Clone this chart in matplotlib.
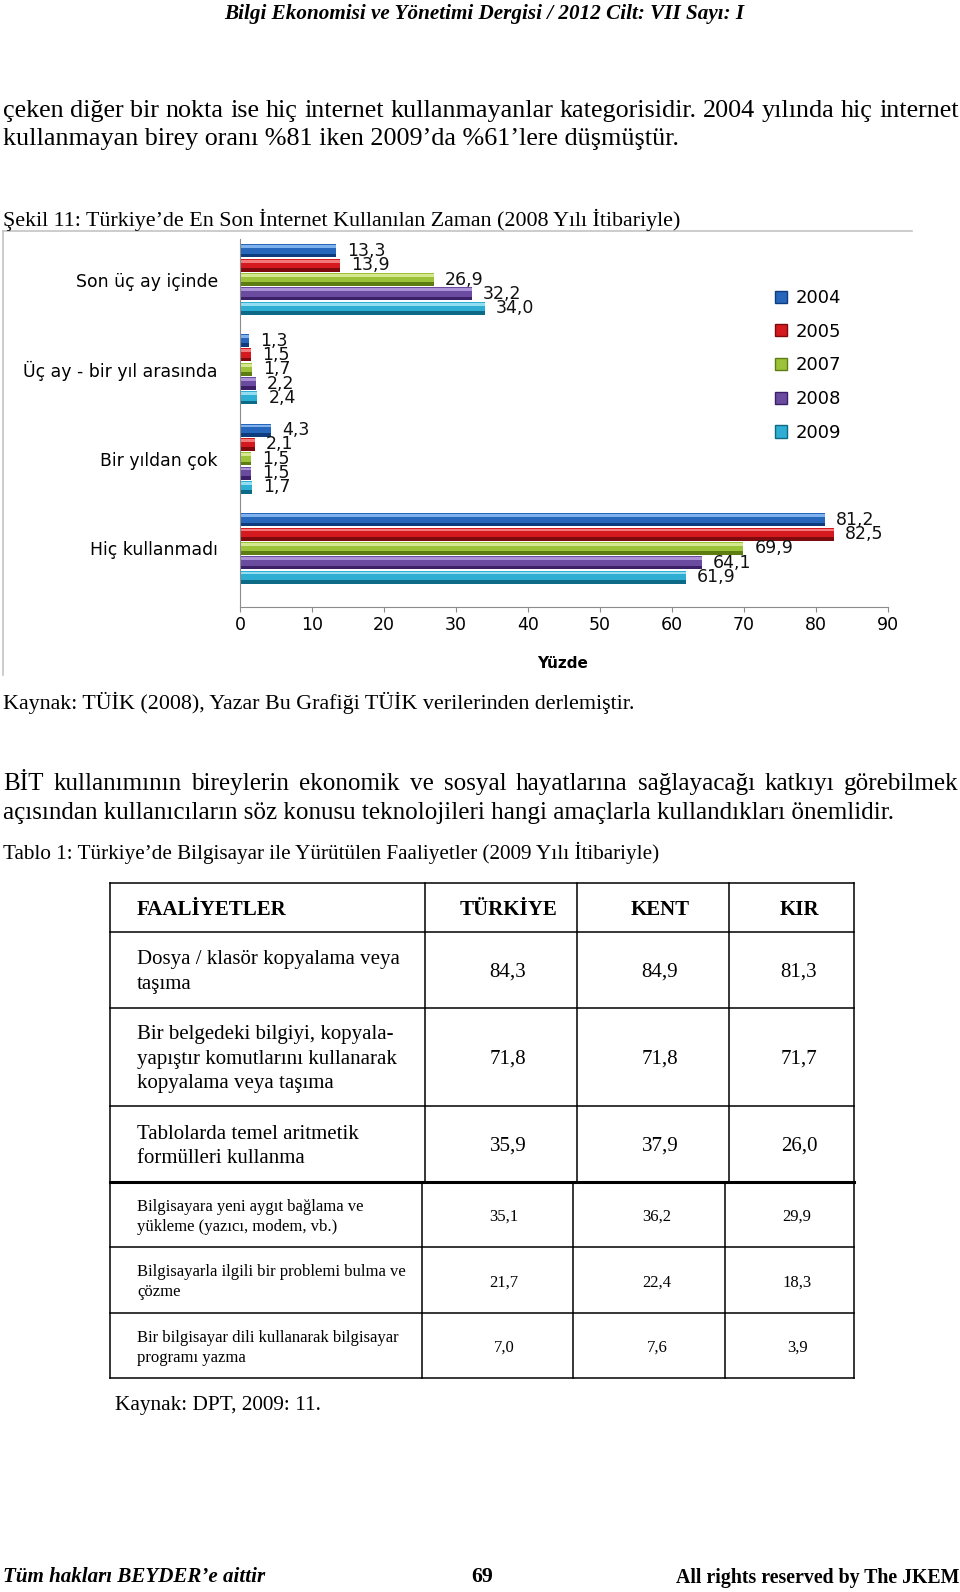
import matplotlib
matplotlib.use('Agg')
import matplotlib.pyplot as plt
import numpy as np
from matplotlib.patches import Patch

# Şekil 11 data
categories = ['Son üç ay içinde', 'Üç ay - bir yıl arasında', 'Bir yıldan çok', 'Hiç kullanmadı']
years = ['2004', '2005', '2007', '2008', '2009']
v2004 = [13.3, 1.3, 4.3, 81.2]
v2005 = [13.9, 1.5, 2.1, 82.5]
v2007 = [26.9, 1.7, 1.5, 69.9]
v2008 = [32.2, 2.2, 1.5, 64.1]
v2009 = [34.0, 2.4, 1.7, 61.9]
xticks = [0, 10, 20, 30, 40, 50, 60, 70, 80, 90]

# Tablo 1 data
table_header = ['FAALİYETLER', 'TÜRKİYE', 'KENT', 'KIR']
activities = ['Dosya / klasör kopyalama veya\ntaşıma',
              'Bir belgedeki bilgiyi, kopyala-\nyapıştır komutlarını kullanarak\nkopyalama veya taşıma',
              'Tablolarda temel aritmetik\nformülleri kullanma',
              'Bilgisayara yeni aygıt bağlama ve\nyükleme (yazıcı, modem, vb.)',
              'Bilgisayarla ilgili bir problemi bulma ve\nçözme',
              'Bir bilgisayar dili kullanarak bilgisayar\nprogramı yazma']
turkiye = [84.3, 71.8, 35.9, 35.1, 21.7, 7.0]
kent = [84.9, 71.8, 37.9, 36.2, 22.4, 7.6]
kir = [81.3, 71.7, 26.0, 29.9, 18.3, 3.9]

SERIF = 'Liberation Serif'
SANS = 'DejaVu Sans'
dark = ['#0e3c7c', '#7d0b0d', '#5d7c12', '#3b2068', '#0c6a86']
mid = ['#2667bb', '#d4191f', '#9cc23a', '#6b4ba0', '#2eaed2']
light = ['#7fb2ec', '#f27a7a', '#d4e98f', '#ab92d6', '#92ddf2']
DY = 2.5  # serif text sits a bit lower than its bbox centre

W, H = 960, 1592
fig = plt.figure(figsize=(W / 100, H / 100), dpi=100)
page = fig.add_axes([0, 0, 1, 1])
page.set_xlim(0, W)
page.set_ylim(H, 0)
page.axis('off')
renderer = fig.canvas.get_renderer()


def fmt(v):
    return f'{v:.1f}'.replace('.', ',')


def fit(x, y, s, width, ha='left', **kw):
    t = page.text(x, y + DY, s, ha=ha, va='center', fontsize=14, family=SERIF, **kw)
    w = t.get_window_extent(renderer).width
    t.set_fontsize(14 * width / w)
    return t.get_fontsize()


def justify(x0, x1, y, s, size, **kw):
    # words on a common baseline, spread to fill the line
    base = y + DY + 0.233 * size * 100 / 72
    words = s.split()
    ts = [page.text(0, base, w, ha='left', va='baseline', fontsize=size, family=SERIF, **kw) for w in words]
    widths = [t.get_window_extent(renderer).width for t in ts]
    gap = (x1 - x0 - sum(widths)) / (len(words) - 1)
    x = x0
    for t, w in zip(ts, widths):
        t.set_x(x)
        x += w + gap


def serif(x, y, s, **kw):
    page.text(x, y + DY, s, va='center', family=SERIF, **kw)


# page text
fit(484, 12, 'Bilgi Ekonomisi ve Yönetimi Dergisi / 2012 Cilt: VII Sayı: I', 521, ha='center',
    weight='bold', style='italic')
s1 = fit(3, 137, 'kullanmayan birey oranı %81 iken 2009’da %61’lere düşmüştür.', 680)
justify(3, 959, 108, 'çeken diğer bir nokta ise hiç internet kullanmayanlar kategorisidir. 2004 yılında hiç internet', s1)
fit(3, 217, 'Şekil 11: Türkiye’de En Son İnternet Kullanılan Zaman (2008 Yılı İtibariyle)', 680)
fit(3, 700, 'Kaynak: TÜİK (2008), Yazar Bu Grafiği TÜİK verilerinden derlemiştir.', 635)
s2 = fit(3, 811, 'açısından kullanıcıların söz konusu teknolojileri hangi amaçlarla kullandıkları önemlidir.', 898)
justify(3, 959, 782, 'BİT kullanımının bireylerin ekonomik ve sosyal hayatlarına sağlayacağı katkıyı görebilmek', s2)
fit(3, 850, 'Tablo 1: Türkiye’de Bilgisayar ile Yürütülen Faaliyetler (2009 Yılı İtibariyle)', 656)
fit(115, 1403, 'Kaynak: DPT, 2009: 11.', 207)
fit(3, 1575, 'Tüm hakları BEYDER’e aittir', 263, weight='bold', style='italic')
fit(482, 1575, '69', 22, ha='center', weight='bold')
fit(959, 1575, 'All rights reserved by The JKEM', 285, ha='right', weight='bold')

# chart frame
page.plot([3, 912], [231, 231], color='#c4c4c4', lw=1.2)
page.plot([3, 3], [231, 675], color='#c4c4c4', lw=1.2)

# chart
ax = fig.add_axes([240 / W, 1 - 607 / H, (888 - 240) / W, (607 - 239.5) / H])
ax.set_xlim(0, 90)
ax.set_ylim(3.654, -0.4475)
ax.patch.set_alpha(0)
series = [v2004, v2005, v2007, v2008, v2009]
cat_y = np.arange(len(categories))
bh = 0.145
for k, vals in enumerate(series):
    y = cat_y + (k - 2) * 0.16
    ax.barh(y, vals, height=bh, color=dark[k])
    ax.barh(y - 0.02, vals, height=bh * 0.72, color=mid[k])
    ax.barh(y - 0.046, vals, height=bh * 0.22, color=light[k])
    for yy, v in zip(y, vals):
        ax.annotate(fmt(v), (v, yy), xytext=(8, 0), textcoords='offset points',
                    ha='left', va='center', fontsize=12.5, family=SANS, color='#111111')

for side in ['top', 'right']:
    ax.spines[side].set_visible(False)
for side in ['left', 'bottom']:
    ax.spines[side].set_color('#8c8c8c')
ax.set_xticks(xticks)
ax.set_xticklabels([str(t) for t in xticks], fontsize=12.5, family=SANS)
ax.tick_params(axis='x', direction='out', length=3.6, color='#8c8c8c', pad=3)
ax.set_yticks(cat_y)
ax.set_yticklabels(categories, fontsize=12.4, family=SANS)
ax.tick_params(axis='y', length=0, pad=16)

page.text(563, 663, 'Yüzde', ha='center', va='center', fontsize=11, weight='bold', family=SANS)

handles = [Patch(facecolor=mid[k], edgecolor=dark[k], lw=1) for k in range(len(years))]
fig.legend(handles, years, loc='upper left', bbox_to_anchor=(775, 289), bbox_transform=page.transData,
           frameon=False, prop={'family': SANS, 'size': 13}, handlelength=0.65, handleheight=0.65,
           handletextpad=0.5, labelspacing=0.87, borderpad=0, borderaxespad=0)

# table
rows = [883, 931.5, 1007.7, 1106, 1182, 1247, 1313, 1378]
upper_cols = [110, 425, 577, 729, 854]
lower_cols = [110, 422, 573, 725, 854]
for r in rows:
    page.plot([110, 854], [r, r], color='black', lw=2.2 if r == 1182 else 1.1, solid_capstyle='projecting')
for c in upper_cols:
    page.plot([c, c], [883, 1182], color='black', lw=1.1)
for c in lower_cols:
    page.plot([c, c], [1182, 1378], color='black', lw=1.1)

hy = (rows[0] + rows[1]) / 2
upper_centers = [508, 660, 799]
lower_centers = [504, 657, 797]
serif(137, hy, table_header[0], ha='left', fontsize=15, weight='bold')
for name, cx in zip(table_header[1:], upper_centers):
    serif(cx, hy, name, ha='center', fontsize=15, weight='bold')

for i, act in enumerate(activities):
    cy = (rows[i + 1] + rows[i + 2]) / 2
    small = i >= 3
    size = 12 if small else 15
    pitch = 20 if small else 24.5
    lines = act.split('\n')
    for j, line in enumerate(lines):
        ly = cy + (j - (len(lines) - 1) / 2) * pitch
        serif(137, ly, line, ha='left', fontsize=size)
    centers = lower_centers if small else upper_centers
    for cx, v in zip(centers, [turkiye[i], kent[i], kir[i]]):
        serif(cx, cy, fmt(v), ha='center', fontsize=size)

fig.savefig('out.png', dpi=100)
